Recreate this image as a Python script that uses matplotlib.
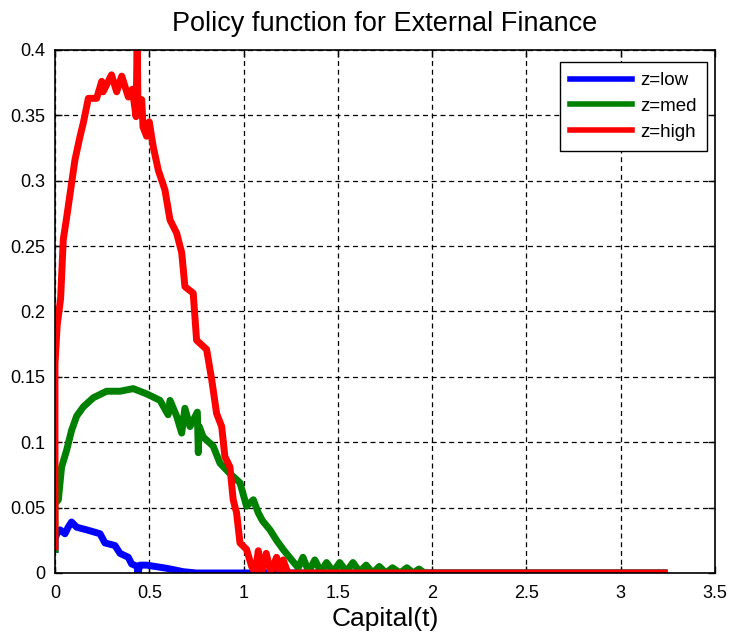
import matplotlib
matplotlib.use("Agg")
import matplotlib.pyplot as plt

plt.rcParams["font.family"] = ["Liberation Sans", "DejaVu Sans"]

# policy function samples: capital grid vs external finance, one series per state
k_low = [0.0, 0.0, 0.01, 0.027, 0.053, 0.07, 0.088, 0.115, 0.168, 0.239, 0.265,
         0.318, 0.345, 0.389, 0.406, 0.436, 0.44, 0.45, 0.486, 0.592, 0.68, 0.75,
         1.1, 3.23]
ef_low = [0.018, 0.026, 0.03, 0.033, 0.030, 0.035, 0.039, 0.035, 0.033, 0.030, 0.023,
          0.021, 0.015, 0.012, 0.007, 0.005, 0.0, 0.006, 0.006, 0.0036, 0.001, 0.0,
          0.0, 0.0]

k_med = [0.0, 0.0, 0.018, 0.035, 0.062, 0.088, 0.115, 0.15, 0.203, 0.274, 0.345,
         0.415, 0.486, 0.557, 0.6, 0.61, 0.645, 0.672, 0.689, 0.716, 0.755, 0.76,
         0.765, 0.786, 0.839, 0.875, 0.928, 0.981, 1.016, 1.052, 1.078, 1.1, 1.14,
         1.175, 1.21, 1.255, 1.29, 1.315, 1.345, 1.378, 1.41, 1.44, 1.475, 1.51,
         1.545, 1.58, 1.615, 1.65, 1.685, 1.72, 1.755, 1.79, 1.83, 1.866, 1.9,
         1.93, 1.96, 3.23]
ef_med = [0.018, 0.053, 0.056, 0.081, 0.094, 0.109, 0.12, 0.127, 0.134, 0.139, 0.139,
          0.141, 0.137, 0.132, 0.121, 0.132, 0.12, 0.107, 0.126, 0.112, 0.123, 0.092,
          0.112, 0.104, 0.097, 0.084, 0.076, 0.069, 0.051, 0.056, 0.046, 0.04, 0.033,
          0.025, 0.018, 0.01, 0.004, 0.012, 0.001, 0.010, 0.001, 0.008, 0.001, 0.008,
          0.001, 0.008, 0.001, 0.006, 0.0, 0.005, 0.0, 0.004, 0.0, 0.004, 0.0,
          0.003, 0.0, 0.0]

k_high = [0.0, 0.0, 0.012, 0.03, 0.044, 0.062, 0.08, 0.106, 0.133, 0.15, 0.177,
          0.221, 0.248, 0.255, 0.30, 0.327, 0.354, 0.389, 0.41, 0.43, 0.436, 0.44,
          0.46, 0.467, 0.486, 0.5, 0.521, 0.548, 0.583, 0.61, 0.645, 0.672, 0.689,
          0.733, 0.751, 0.804, 0.831, 0.857, 0.884, 0.901, 0.928, 0.945, 0.963,
          0.981, 1.016, 1.043, 1.062, 1.078, 1.095, 1.12, 1.145, 1.175, 1.195,
          1.21, 1.235, 3.23]
ef_high = [0.02, 0.16, 0.19, 0.21, 0.255, 0.272, 0.29, 0.316, 0.334, 0.344, 0.363,
           0.363, 0.376, 0.368, 0.381, 0.368, 0.38, 0.364, 0.37, 0.349, 0.41, 0.355,
           0.362, 0.341, 0.334, 0.345, 0.326, 0.308, 0.293, 0.27, 0.26, 0.245, 0.219,
           0.214, 0.178, 0.171, 0.148, 0.122, 0.112, 0.089, 0.081, 0.056, 0.046,
           0.023, 0.018, 0.005, 0.0, 0.017, 0.0, 0.015, 0.0, 0.012, 0.0,
           0.01, 0.0, 0.0]

series = [
    (k_low, ef_low, "z=low", "#0000ff"),
    (k_med, ef_med, "z=med", "#008000"),
    (k_high, ef_high, "z=high", "#ff0000"),
]

fig = plt.figure(figsize=(7.32, 6.39), dpi=100)
ax = fig.add_axes([0.0751, 0.1033, 0.9017, 0.8185])

for k, ef, name, col in series:
    ax.plot(k, ef, color=col, lw=5.0, label=name, solid_joinstyle="round")

ax.set_xlim(0, 3.5)
ax.set_ylim(0, 0.4)
ax.set_xticks([0, 0.5, 1, 1.5, 2, 2.5, 3, 3.5])
ax.set_xticklabels(["0", "0.5", "1", "1.5", "2", "2.5", "3", "3.5"])
ax.set_yticks([0, 0.05, 0.1, 0.15, 0.2, 0.25, 0.3, 0.35, 0.4])
ax.set_yticklabels(["0", "0.05", "0.1", "0.15", "0.2", "0.25", "0.3", "0.35", "0.4"])
ax.tick_params(direction="in", length=5, width=1, top=True, right=True,
               labelsize=13, colors="black")
ax.tick_params(axis="x", pad=9)
ax.tick_params(axis="y", pad=7)
ax.grid(True, color="black", linestyle=(0, (4, 3)), linewidth=0.9)
for s in ax.spines.values():
    s.set_linewidth(1.2)

ax.set_title("Policy function for External Finance", fontsize=19.5, pad=14)
ax.set_xlabel("Capital(t)", fontsize=19, labelpad=3)

leg = ax.legend(loc="upper right", bbox_to_anchor=(0.988, 0.977), fontsize=13.5,
                borderaxespad=0, handlelength=3.3, handletextpad=0.45,
                fancybox=False, framealpha=1, edgecolor="black",
                borderpad=0.55, labelspacing=0.45)
leg.get_frame().set_linewidth(1.0)
for line in leg.get_lines():
    line.set_linewidth(4.0)

fig.savefig("out.png", dpi=100)
